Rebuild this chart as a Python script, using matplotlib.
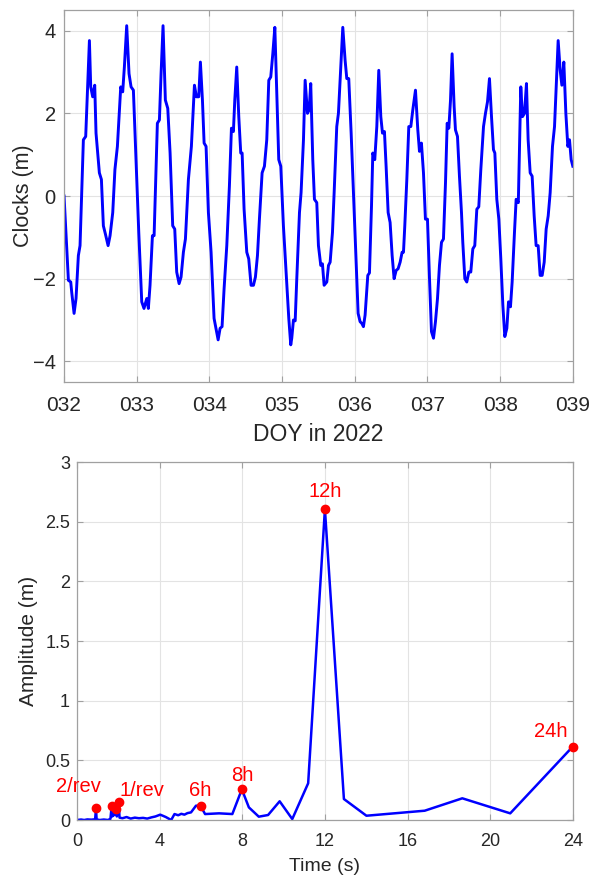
import matplotlib
matplotlib.use("Agg")
import matplotlib.pyplot as plt
import numpy as np

plt.rcParams['font.family'] = ['Liberation Sans', 'DejaVu Sans']

# ---- top panel: clock series (day offset from DOY 032, metres)
doy = [0.0, 0.06, 0.092, 0.105, 0.138, 0.165, 0.197, 0.22, 0.266, 0.298, 0.349, 0.367, 0.394, 0.422,
       0.44, 0.486, 0.514, 0.541, 0.569, 0.606, 0.633, 0.67, 0.70, 0.734, 0.78, 0.807, 0.83, 0.862,
       0.894, 0.922, 0.954, 0.99, 1.028, 1.069, 1.10, 1.138, 1.16, 1.183, 1.216, 1.239, 1.284, 1.312,
       1.335, 1.362, 1.394, 1.427, 1.459, 1.495, 1.523, 1.55, 1.583, 1.61, 1.642, 1.67, 1.711, 1.752,
       1.794, 1.821, 1.853, 1.876, 1.904, 1.927, 1.954, 1.986, 2.023, 2.064, 2.12, 2.147, 2.174, 2.202,
       2.239, 2.275, 2.303, 2.33, 2.349, 2.376, 2.404, 2.431, 2.45, 2.477, 2.514, 2.541, 2.573, 2.606,
       2.633, 2.661, 2.688, 2.725, 2.757, 2.789, 2.817, 2.844, 2.872, 2.90, 2.927, 2.954, 2.982, 3.018,
       3.055, 3.092, 3.119, 3.133, 3.156, 3.18, 3.202, 3.239, 3.261, 3.294, 3.317, 3.349, 3.372, 3.394,
       3.422, 3.445, 3.477, 3.50, 3.532, 3.555, 3.578, 3.615, 3.638, 3.661, 3.693, 3.716, 3.752, 3.775,
       3.798, 3.835, 3.867, 3.89, 3.917, 3.95, 3.982, 4.014, 4.046, 4.073, 4.096, 4.119, 4.142, 4.179,
       4.202, 4.23, 4.248, 4.275, 4.303, 4.33, 4.358, 4.381, 4.408, 4.431, 4.459, 4.486, 4.514, 4.541,
       4.569, 4.596, 4.624, 4.651, 4.67, 4.688, 4.716, 4.743, 4.771, 4.798, 4.835, 4.867, 4.89, 4.917,
       4.945, 4.972, 5.0, 5.028, 5.055, 5.083, 5.11, 5.138, 5.165, 5.193, 5.22, 5.248, 5.271, 5.294,
       5.317, 5.339, 5.367, 5.385, 5.413, 5.44, 5.468, 5.486, 5.514, 5.541, 5.569, 5.596, 5.624, 5.651,
       5.679, 5.706, 5.734, 5.771, 5.798, 5.826, 5.853, 5.881, 5.908, 5.927, 5.954, 5.982, 6.009, 6.037,
       6.064, 6.092, 6.115, 6.142, 6.165, 6.197, 6.22, 6.25, 6.284, 6.307, 6.335, 6.362, 6.385, 6.413,
       6.44, 6.468, 6.495, 6.523, 6.55, 6.578, 6.606, 6.633, 6.661, 6.688, 6.72, 6.748, 6.775, 6.798,
       6.826, 6.849, 6.876, 6.904, 6.931, 6.954, 6.977, 7.0]
clk = [0.0, -2.04, -2.08, -2.32, -2.84, -2.48, -1.44, -1.2, 1.36, 1.44, 3.76, 2.64, 2.4, 2.68,
       1.52, 0.56, 0.4, -0.72, -0.92, -1.2, -0.96, -0.4, 0.64, 1.2, 2.64, 2.52, 3.12, 4.12,
       2.96, 2.64, 2.56, 0.88, -0.88, -2.56, -2.72, -2.48, -2.72, -2.16, -0.96, -0.96, 1.76, 1.84,
       2.96, 4.12, 2.32, 2.12, 1.04, -0.72, -0.8, -1.84, -2.12, -1.96, -1.36, -1.04, 0.4, 1.2,
       2.68, 2.4, 2.4, 3.24, 2.32, 1.28, 1.2, -0.4, -1.36, -2.96, -3.48, -3.2, -3.16, -2.24,
       -1.2, 0.24, 1.64, 1.56, 2.32, 3.12, 1.92, 1.04, 1.04, -0.32, -1.36, -1.52, -2.16, -2.16,
       -1.96, -1.44, -0.56, 0.56, 0.72, 1.36, 2.8, 2.88, 3.44, 4.08, 2.48, 0.88, 0.72, -0.72,
       -1.84, -2.96, -3.6, -3.44, -3.0, -3.02, -2.0, -0.4, 0.08, 1.36, 2.8, 2.0, 2.08, 2.72,
       0.88, -0.08, -0.16, -1.2, -1.68, -1.64, -2.16, -2.08, -1.68, -1.6, -0.88, 0.08, 1.68, 2.0,
       2.8, 4.08, 3.28, 2.84, 2.84, 1.52, 0.08, -1.36, -2.84, -3.04, -3.08, -3.16, -2.88, -1.92,
       -1.86, -0.24, 1.04, 0.88, 1.68, 3.04, 1.92, 1.52, 1.56, 0.72, -0.4, -0.64, -1.44, -2.0,
       -1.8, -1.76, -1.6, -1.36, -1.36, -0.72, 0.4, 1.68, 1.68, 2.08, 2.56, 1.6, 1.08, 1.28,
       0.56, -0.56, -0.56, -2.0, -3.28, -3.44, -3.04, -2.48, -1.68, -1.12, -1.04, 0.32, 1.76, 1.64,
       2.32, 3.44, 2.16, 1.6, 1.44, 0.48, -0.4, -1.12, -2.0, -2.08, -1.84, -1.84, -1.28, -1.2,
       -0.32, -0.26, 0.64, 1.68, 2.0, 2.28, 2.84, 1.92, 1.12, 1.04, -0.08, -0.56, -1.52, -2.64,
       -3.4, -3.2, -2.56, -2.68, -2.08, -0.88, -0.08, -0.16, 2.64, 1.92, 2.0, 2.72, 1.36, 0.56,
       0.48, -0.48, -1.2, -1.2, -1.92, -1.92, -1.6, -0.8, -0.48, 0.08, 1.2, 1.68, 2.8, 3.76,
       3.04, 2.68, 3.24, 2.0, 1.2, 1.36, 0.88, 0.72]

doy_ticks = [32, 33, 34, 35, 36, 37, 38, 39]

# ---- bottom panel: amplitude spectrum (period h, amplitude m)
period = [0.0, 0.2, 0.35, 0.5, 0.7, 0.88, 0.92, 0.95, 1.1, 1.3, 1.5, 1.62, 1.68, 1.71, 1.75, 1.79,
          1.84, 1.89, 1.93, 1.97, 2.02, 2.06, 2.2, 2.4, 2.6, 2.8, 3.0, 3.2, 3.4, 3.6, 3.8, 4.03,
          4.3, 4.56, 4.72, 4.9, 5.05, 5.2, 5.35, 5.52, 5.76, 5.98, 6.2, 6.88, 7.52, 7.98, 8.32,
          8.8, 9.25, 9.81, 10.42, 11.19, 12.0, 12.92, 14.01, 16.83, 18.65, 20.97, 24.0]
amp = [0.0, 0.004, 0.0, 0.005, 0.003, 0.006, 0.098, 0.005, 0.0, 0.004, 0.0, 0.01, 0.117, 0.03, 0.10, 0.04,
       0.11, 0.092, 0.03, 0.12, 0.151, 0.02, 0.015, 0.025, 0.012, 0.02, 0.015, 0.018, 0.012, 0.022, 0.03, 0.045,
       0.025, 0.0, 0.05, 0.04, 0.052, 0.045, 0.058, 0.064, 0.12, 0.12, 0.05, 0.056, 0.05, 0.257, 0.106,
       0.028, 0.042, 0.157, 0.008, 0.308, 2.605, 0.176, 0.036, 0.078, 0.182, 0.056, 0.616]

peak_period = [0.92, 1.68, 1.89, 2.02, 5.98, 7.98, 12.0, 24.0]
peak_amp = [0.098, 0.117, 0.092, 0.151, 0.12, 0.257, 2.605, 0.616]

labels = ['2/rev', '1/rev', '6h', '8h', '12h', '24h']
label_xy = [(0.06, 0.285), (3.13, 0.25), (5.98, 0.245), (7.98, 0.377), (12.0, 2.75), (22.95, 0.74)]

txt = '#262626'
edge = '#a0a0a0'

fig = plt.figure(figsize=(5.93, 8.76), dpi=100)
ax1 = fig.add_axes([0.108, 0.5639, 0.858, 0.4247])
ax2 = fig.add_axes([0.1298, 0.0639, 0.8362, 0.4087])

# top
ax1.plot(np.array(doy) + 32, clk, color='#0000ff', lw=2.1)
ax1.set_xlim(32, 39)
ax1.set_ylim(-4.5, 4.5)
ax1.set_xticks(doy_ticks)
ax1.set_xticklabels(['%03d' % d for d in doy_ticks], fontsize=15)
ax1.set_yticks([-4, -2, 0, 2, 4])
ax1.tick_params(axis='y', labelsize=14.5, pad=6)
ax1.tick_params(axis='x', pad=10)
ax1.set_xlabel('DOY in 2022', fontsize=16.5, color=txt, labelpad=6)
ax1.set_ylabel('Clocks (m)', fontsize=15.5, color=txt, labelpad=-1)

# bottom
ax2.plot(period, amp, color='#0000ff', lw=1.8)
ax2.plot(peak_period, peak_amp, 'o', color='#ff0000', ms=6, zorder=5, clip_on=False)
for s, (x, y) in zip(labels, label_xy):
    ax2.text(x, y, s, color='#ff0000', fontsize=14.5, ha='center', va='center')
ax2.set_xlim(0, 24)
ax2.set_ylim(0, 3)
ax2.set_xticks([0, 4, 8, 12, 16, 20, 24])
ax2.set_yticks([0, 0.5, 1, 1.5, 2, 2.5, 3])
ax2.set_yticklabels(['0', '0.5', '1', '1.5', '2', '2.5', '3'])
ax2.tick_params(labelsize=13)
ax2.tick_params(axis='x', pad=9)
ax2.tick_params(axis='y', pad=5)
ax2.set_xlabel('Time (s)', fontsize=14, color=txt, labelpad=6)
ax2.set_ylabel('Amplitude (m)', fontsize=15, color=txt, labelpad=5)

for ax in (ax1, ax2):
    ax.grid(True, color='#e3e3e3', lw=0.8)
    ax.set_axisbelow(True)
    ax.tick_params(direction='in', top=True, right=True, colors=edge, labelcolor=txt, length=4)
    for sp in ax.spines.values():
        sp.set_color(edge)
        sp.set_linewidth(0.9)

fig.savefig('out.png', dpi=100)
